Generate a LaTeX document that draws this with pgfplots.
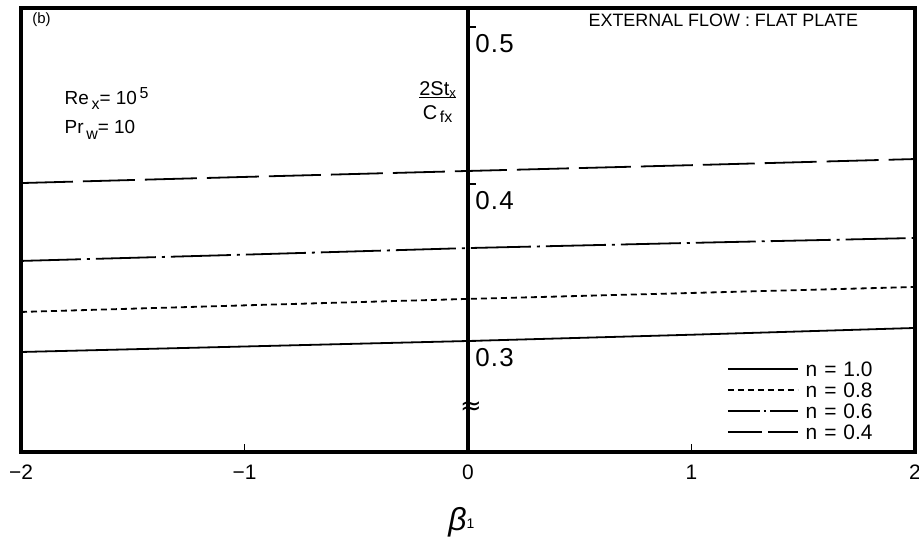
\documentclass[border=0pt]{standalone}
\usepackage{fontspec}
\setmainfont{Liberation Sans}
\newfontfamily\symfont{DejaVu Sans}
\usepackage{pgfplots}
\pgfplotsset{compat=1.18}

\pgfplotstableread{
x y
-2 0.2930
-1 0.2965
0 0.3000
1 0.3040
2 0.3083
}\nA
\pgfplotstableread{
x y
-2 0.3185
-1 0.3227
0 0.3268
1 0.3306
2 0.3344
}\nB
\pgfplotstableread{
x y
-2 0.3510
-1 0.3550
0 0.3592
1 0.3625
2 0.3656
}\nC
\pgfplotstableread{
x y
-2 0.4006
-1 0.4045
0 0.4083
1 0.4120
2 0.4159
}\nD

\begin{document}
\begin{tikzpicture}
\begin{axis}[
  scale only axis, width=447bp, height=222bp,
  xmin=-2, xmax=2, ymin=0.2293, ymax=0.5121,
  axis line style={line width=1.8bp},
  xtick={-2,-1,0,1,2},
  xticklabels={−2,−1,0,1,2},
  xtick pos=bottom, tick align=inside, major tick length=4bp,
  tick style={line width=0.8bp, black},
  ytick=\empty,
  x tick label style={font=\fontsize{10.5}{12}\selectfont, yshift=-3bp},
  clip=false,
  every axis plot/.append style={line width=0.9bp, black},
  legend image code/.code={\draw[#1, line width=0.9bp] (0bp,0bp) -- (35bp,0bp); \path (37bp,0bp);},
  legend cell align=left,
  legend style={at={(rel axis cs:0.963,0.22)}, anchor=north east, draw=none, fill=none,
    font=\fontsize{10.5}{11}\selectfont,
    nodes={inner sep=1.5bp, text height=7.2bp, text depth=0.3bp},
    row sep=0bp},
]
\addplot[solid, forget plot] table {\nA};
\addplot[dash pattern=on 3bp off 2bp, forget plot] table {\nB};
\addplot[dash pattern=on 30bp off 3bp on 1.5bp off 3bp, forget plot] table {\nC};
\addplot[dash pattern=on 26bp off 5bp, forget plot] table {\nD};

\addlegendimage{solid}
\addlegendentry{n\,\,=\,\,1.0}
\addlegendimage{dash pattern=on 3bp off 2bp}
\addlegendentry{n\,\,=\,\,0.8}
\addlegendimage{dash pattern=on 16bp off 2bp on 1.2bp off 2bp}
\addlegendentry{n\,\,=\,\,0.6}
\addlegendimage{dash pattern=on 17bp off 3bp}
\addlegendentry{n\,\,=\,\,0.4}

% central axis
\draw[line width=2bp] (axis cs:0,0.2293) -- (axis cs:0,0.5121);
\draw[line width=1bp] (axis cs:0,0.5) -- ++(4bp,0bp);
\draw[line width=1bp] (axis cs:0,0.4) -- ++(4bp,0bp);
\draw[line width=1bp] (axis cs:0,0.3) -- ++(4bp,0bp);
\node[anchor=north west, inner sep=0pt, font=\fontsize{13}{13}\selectfont, xshift=3.5bp, yshift=-3.5bp] at (axis cs:0,0.5) {0\kern0.6bp.\kern0.6bp5};
\node[anchor=north west, inner sep=0pt, font=\fontsize{13}{13}\selectfont, xshift=3.5bp, yshift=-3.5bp] at (axis cs:0,0.4) {0\kern0.6bp.\kern0.6bp4};
\node[anchor=north west, inner sep=0pt, font=\fontsize{13}{13}\selectfont, xshift=3.5bp, yshift=-3.5bp] at (axis cs:0,0.3) {0\kern0.6bp.\kern0.6bp3};
\node[font=\symfont\fontsize{13}{13}\selectfont, inner sep=0pt, xshift=1.5bp] at (axis cs:0,0.2573) {≈};

% texts
\node[font=\fontsize{7.5}{8}\selectfont] at (rel axis cs:0.023,0.973) {(b)};
\node[anchor=west, font=\fontsize{9.5}{10}\selectfont] at (rel axis cs:0.041,0.797) {Re\raisebox{-2.5bp}{\fontsize{8}{8}\selectfont\,x}= 10\raisebox{3bp}{\fontsize{8}{8}\selectfont\,5}};
\node[anchor=west, font=\fontsize{9.5}{10}\selectfont] at (rel axis cs:0.041,0.725) {Pr\raisebox{-3bp}{\fontsize{8}{8}\selectfont\,w}= 10};
\node[font=\fontsize{10}{10}\selectfont, inner sep=0pt] at (rel axis cs:0.466,0.785) {\begin{tabular}{@{}c@{}}2St\raisebox{-1bp}{\fontsize{6.5}{6.5}\selectfont x}\\[-2pt]\hline\rule{0pt}{11pt}C\raisebox{-1.5bp}{\fontsize{8}{8}\selectfont\,fx}\end{tabular}};
\node[anchor=west, font=\fontsize{9}{10}\selectfont] at (rel axis cs:0.627,0.973) {EXTERNAL FLOW : FLAT PLATE};
\node[font=\fontsize{16}{16}\selectfont\itshape, yshift=-35bp] at (axis cs:-0.03,0.2293) {β\raisebox{1bp}{\fontsize{7}{7}\selectfont\upshape 1}};
\end{axis}
\pgfresetboundingbox
\path ([shift={(-10.5bp,-46bp)}]current axis.south west) rectangle ([shift={(2bp,4bp)}]current axis.north east);
\end{tikzpicture}
\end{document}
